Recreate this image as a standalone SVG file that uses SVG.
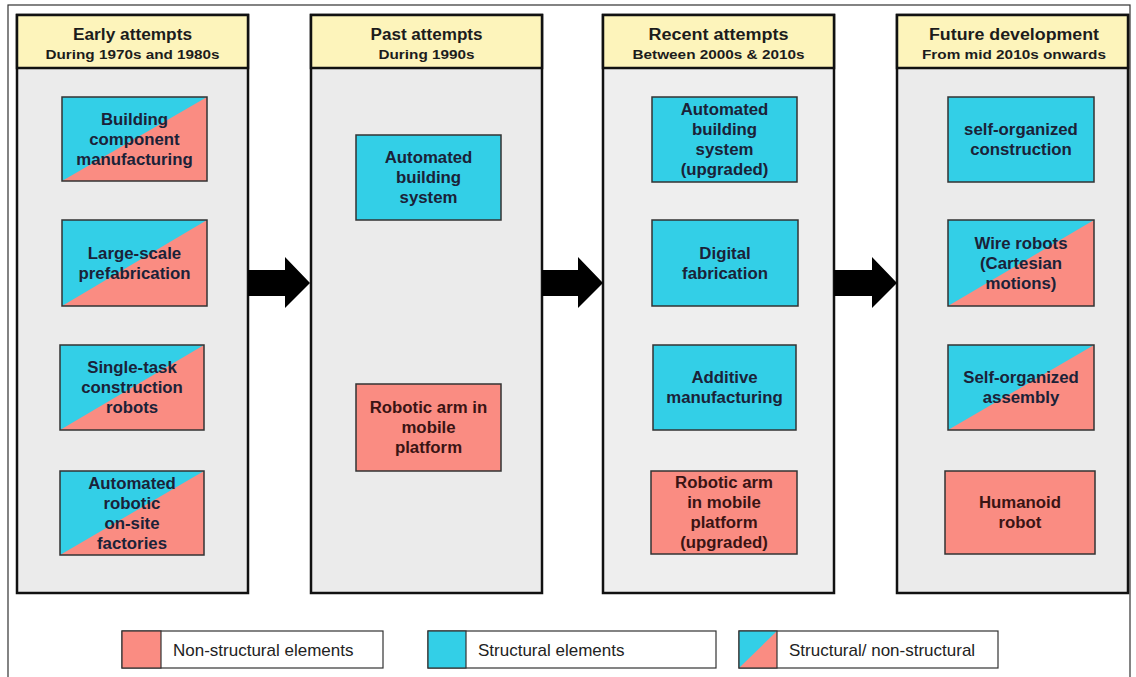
<svg xmlns="http://www.w3.org/2000/svg" width="1136" height="677" viewBox="0 0 1136 677">
  <style>
    .frame { fill: #ffffff; stroke: #333333; stroke-width: 1.2; }
    .col { fill: #ebebeb; stroke: #111111; stroke-width: 2.5; }
    .head { fill: #fdf4bb; stroke: #111111; stroke-width: 2.5; }
    .title { font-family: "Liberation Sans", Arial, sans-serif; font-weight: bold; font-size: 16px; fill: #1c1c1c; text-anchor: middle; }
    .sub { font-family: "Liberation Sans", Arial, sans-serif; font-weight: bold; font-size: 13px; fill: #1c1c1c; text-anchor: middle; }
    .box { stroke: #333333; stroke-width: 1.5; }
    .cyan { fill: #33cfe7; }
    .salmon { fill: #fa8c82; }
    .edge { fill: none; stroke: #333333; stroke-width: 1.5; }
    .lbl { font-family: "Liberation Sans", Arial, sans-serif; font-weight: bold; font-size: 16.8px; text-anchor: middle; fill: #1b2238; }
    .lbl.warm { fill: #3a1414; }
    .arrow { fill: #000000; }
    .leg { fill: #ffffff; stroke: #333333; stroke-width: 1.2; }
    .legtxt { font-family: "Liberation Sans", Arial, sans-serif; font-size: 17px; fill: #222222; }
  </style>

  <!-- outer frame -->
  <rect class="frame" x="8" y="5" width="1122" height="700"/>

  <!-- ===== column 1 ===== -->
  <g id="col-early">
    <rect class="col" x="17" y="15" width="231" height="578"/>
    <rect class="head" x="17" y="15" width="231" height="53"/>
    <text class="title" x="132.5" y="40" textLength="119" lengthAdjust="spacingAndGlyphs">Early attempts</text>
    <text class="sub" x="132.5" y="59" textLength="174" lengthAdjust="spacingAndGlyphs">During 1970s and 1980s</text>
  </g>
  <g id="n-building-component">
    <rect class="cyan" x="62" y="97" width="145" height="84"/>
    <polygon class="salmon" points="62,181 207,97 207,181"/>
    <rect class="edge" x="62" y="97" width="145" height="84"/>
    <text class="lbl"><tspan x="134.5" y="125">Building</tspan><tspan x="134.5" y="145">component</tspan><tspan x="134.5" y="165">manufacturing</tspan></text>
  </g>
  <g id="n-large-scale">
    <rect class="cyan" x="62" y="220" width="145" height="86"/>
    <polygon class="salmon" points="62,306 207,220 207,306"/>
    <rect class="edge" x="62" y="220" width="145" height="86"/>
    <text class="lbl"><tspan x="134.5" y="258.5">Large-scale</tspan><tspan x="134.5" y="278.5">prefabrication</tspan></text>
  </g>
  <g id="n-single-task">
    <rect class="cyan" x="60" y="345" width="144" height="85"/>
    <polygon class="salmon" points="60,430 204,345 204,430"/>
    <rect class="edge" x="60" y="345" width="144" height="85"/>
    <text class="lbl"><tspan x="132" y="373">Single-task</tspan><tspan x="132" y="393">construction</tspan><tspan x="132" y="413">robots</tspan></text>
  </g>
  <g id="n-onsite-factories">
    <rect class="cyan" x="60" y="471" width="144" height="84"/>
    <polygon class="salmon" points="60,555 204,471 204,555"/>
    <rect class="edge" x="60" y="471" width="144" height="84"/>
    <text class="lbl"><tspan x="132" y="488.5">Automated</tspan><tspan x="132" y="508.5">robotic</tspan><tspan x="132" y="528.5">on-site</tspan><tspan x="132" y="548.5">factories</tspan></text>
  </g>

  <!-- ===== column 2 ===== -->
  <g id="col-past">
    <rect class="col" x="311" y="15" width="231" height="578"/>
    <rect class="head" x="311" y="15" width="231" height="53"/>
    <text class="title" x="426.5" y="40" textLength="112" lengthAdjust="spacingAndGlyphs">Past attempts</text>
    <text class="sub" x="426.5" y="59" textLength="96" lengthAdjust="spacingAndGlyphs">During 1990s</text>
  </g>
  <g id="n-auto-building-1990">
    <rect class="box cyan" x="356" y="135" width="145" height="85"/>
    <text class="lbl"><tspan x="428.5" y="163">Automated</tspan><tspan x="428.5" y="183">building</tspan><tspan x="428.5" y="203">system</tspan></text>
  </g>
  <g id="n-robotic-arm-1990">
    <rect class="box salmon" x="356" y="384" width="145" height="87"/>
    <text class="lbl warm"><tspan x="428.5" y="413">Robotic arm in</tspan><tspan x="428.5" y="433">mobile</tspan><tspan x="428.5" y="453">platform</tspan></text>
  </g>

  <!-- ===== column 3 ===== -->
  <g id="col-recent">
    <rect class="col" x="603" y="15" width="231" height="578" style="fill:#eeeeee"/>
    <rect class="head" x="603" y="15" width="231" height="53"/>
    <text class="title" x="718.5" y="40" textLength="140" lengthAdjust="spacingAndGlyphs">Recent attempts</text>
    <text class="sub" x="718.5" y="59" textLength="172" lengthAdjust="spacingAndGlyphs">Between 2000s &amp; 2010s</text>
  </g>
  <g id="n-auto-building-upgraded">
    <rect class="box cyan" x="652" y="97" width="145" height="85"/>
    <text class="lbl"><tspan x="724.5" y="115">Automated</tspan><tspan x="724.5" y="135">building</tspan><tspan x="724.5" y="155">system</tspan><tspan x="724.5" y="175">(upgraded)</tspan></text>
  </g>
  <g id="n-digital-fabrication">
    <rect class="box cyan" x="652" y="220" width="146" height="86"/>
    <text class="lbl"><tspan x="725" y="258.5">Digital</tspan><tspan x="725" y="278.5">fabrication</tspan></text>
  </g>
  <g id="n-additive">
    <rect class="box cyan" x="653" y="345" width="143" height="85"/>
    <text class="lbl"><tspan x="724.5" y="382.5">Additive</tspan><tspan x="724.5" y="402.5">manufacturing</tspan></text>
  </g>
  <g id="n-robotic-arm-upgraded">
    <rect class="box salmon" x="651" y="471" width="146" height="83"/>
    <text class="lbl warm"><tspan x="724" y="487.5">Robotic arm</tspan><tspan x="724" y="507.5">in mobile</tspan><tspan x="724" y="527.5">platform</tspan><tspan x="724" y="547.5">(upgraded)</tspan></text>
  </g>

  <!-- ===== column 4 ===== -->
  <g id="col-future">
    <rect class="col" x="897" y="15" width="231" height="578"/>
    <rect class="head" x="897" y="15" width="231" height="53"/>
    <text class="title" x="1014" y="40" textLength="170" lengthAdjust="spacingAndGlyphs">Future development</text>
    <text class="sub" x="1014" y="59" textLength="184" lengthAdjust="spacingAndGlyphs">From mid 2010s  onwards</text>
  </g>
  <g id="n-self-organized-construction">
    <rect class="box cyan" x="948" y="97" width="146" height="85"/>
    <text class="lbl"><tspan x="1021" y="134.5">self-organized</tspan><tspan x="1021" y="154.5">construction</tspan></text>
  </g>
  <g id="n-wire-robots">
    <rect class="cyan" x="948" y="220" width="146" height="86"/>
    <polygon class="salmon" points="948,306 1094,220 1094,306"/>
    <rect class="edge" x="948" y="220" width="146" height="86"/>
    <text class="lbl"><tspan x="1021" y="248.5">Wire robots</tspan><tspan x="1021" y="268.5">(Cartesian</tspan><tspan x="1021" y="288.5">motions)</tspan></text>
  </g>
  <g id="n-self-organized-assembly">
    <rect class="cyan" x="948" y="345" width="146" height="85"/>
    <polygon class="salmon" points="948,430 1094,345 1094,430"/>
    <rect class="edge" x="948" y="345" width="146" height="85"/>
    <text class="lbl"><tspan x="1021" y="382.5">Self-organized</tspan><tspan x="1021" y="402.5">assembly</tspan></text>
  </g>
  <g id="n-humanoid">
    <rect class="box salmon" x="945" y="471" width="150" height="83"/>
    <text class="lbl warm"><tspan x="1020" y="507.5">Humanoid</tspan><tspan x="1020" y="527.5">robot</tspan></text>
  </g>

  <!-- ===== block arrows between eras ===== -->
  <g id="connectors">
    <polygon class="arrow" points="248,270 285,270 285,257 310,283 285,308 285,296 248,296"/>
    <polygon class="arrow" points="542,270 578,270 578,257 603,283 578,308 578,296 542,296"/>
    <polygon class="arrow" points="834,270 872,270 872,257 897,283 872,308 872,296 834,296"/>
  </g>

  <!-- ===== legend ===== -->
  <g id="legend-nonstructural">
    <rect class="leg" x="122" y="631" width="261" height="37"/>
    <rect class="salmon" x="122" y="631" width="39" height="37" style="stroke:#333333;stroke-width:1.2"/>
    <text class="legtxt" x="173" y="656">Non-structural elements</text>
  </g>
  <g id="legend-structural">
    <rect class="leg" x="428" y="631" width="288" height="37"/>
    <rect class="cyan" x="428" y="631" width="38" height="37" style="stroke:#333333;stroke-width:1.2"/>
    <text class="legtxt" x="478" y="656">Structural elements</text>
  </g>
  <g id="legend-mixed">
    <rect class="leg" x="739" y="631" width="259" height="37"/>
    <rect class="cyan" x="739" y="631" width="38" height="37"/>
    <polygon class="salmon" points="739,668 777,631 777,668"/>
    <rect x="739" y="631" width="38" height="37" style="fill:none;stroke:#333333;stroke-width:1.2"/>
    <text class="legtxt" x="789" y="656">Structural/ non-structural</text>
  </g>
</svg>
